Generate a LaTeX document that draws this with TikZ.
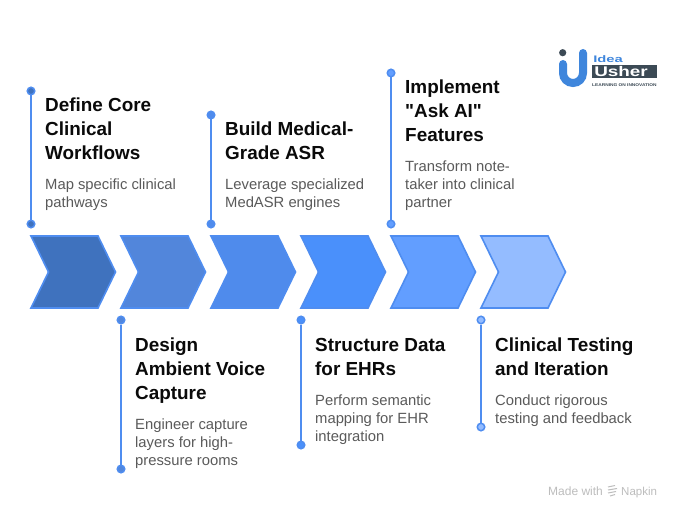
\documentclass[tikz,border=0pt]{standalone}
\usepackage{fontspec}
\setmainfont{Liberation Sans}
\newfontfamily\plainq{Liberation Sans}
\definecolor{titlec}{HTML}{0A0A0A}
\definecolor{bodyc}{HTML}{5A5A5A}
\definecolor{edgec}{HTML}{4F8DF0}
\definecolor{fa}{HTML}{3F72BE}
\definecolor{fb}{HTML}{5286DB}
\definecolor{fc}{HTML}{4F8BEC}
\definecolor{fd}{HTML}{4A90FB}
\definecolor{fe}{HTML}{629EFF}
\definecolor{ff}{HTML}{94BCFF}
\definecolor{logob}{HTML}{3F86DC}
\definecolor{logod}{HTML}{3C4A55}
\definecolor{wm}{HTML}{BDBDBD}
\tikzset{
  x=1pt,y=-1pt,
  chev/.style={draw=edgec,line width=1.6pt,line join=miter},
  dotn/.style={circle,draw=edgec,line width=1.5pt,minimum size=7.5pt,inner sep=0pt},
  stem/.style={draw=edgec,line width=1.8pt},
  head/.style={anchor=north west,inner sep=0pt,align=left,text=titlec,font=\fontsize{18.9}{24}\selectfont\bfseries},
  desc/.style={anchor=north west,inner sep=0pt,align=left,text=bodyc,font=\fontsize{14.8}{18}\selectfont},
}
\newcommand{\chevshape}[2]{\draw[chev,fill=#2] (#1,236) -- ++(67,0) -- ++(17.5,36) -- ++(-17.5,36) -- ++(-67,0) -- ++(17.5,-36) -- cycle;}
\newcommand{\strq}{{\plainq\bfseries\symbol{34}}}
\begin{document}
\begin{tikzpicture}
\useasboundingbox[fill=white] (0,0) rectangle (681,519);
% stems
\node[dotn,fill=fa] (a1) at (31,91) {};
\node[dotn,fill=fa] (a2) at (31,224) {};
\draw[stem] (a1) -- (a2);
\node[dotn,fill=fb] (b1) at (121,320) {};
\node[dotn,fill=fb] (b2) at (121,469) {};
\draw[stem] (b1) -- (b2);
\node[dotn,fill=fc] (c1) at (211,115) {};
\node[dotn,fill=fc] (c2) at (211,224) {};
\draw[stem] (c1) -- (c2);
\node[dotn,fill=fd] (d1) at (301,320) {};
\node[dotn,fill=fd] (d2) at (301,445) {};
\draw[stem] (d1) -- (d2);
\node[dotn,fill=fe] (e1) at (391,73) {};
\node[dotn,fill=fe] (e2) at (391,224) {};
\draw[stem] (e1) -- (e2);
\node[dotn,fill=ff] (f1) at (481,320) {};
\node[dotn,fill=ff] (f2) at (481,427) {};
\draw[stem] (f1) -- (f2);
% chevrons
\chevshape{31}{fa}
\chevshape{121}{fb}
\chevshape{211}{fc}
\chevshape{301}{fd}
\chevshape{391}{fe}
\chevshape{481}{ff}
% text
\node[head] (ta) at (45,98) {Define Core\\Clinical\\Workflows};
\node[desc] (da) at (45,179) {Map specific clinical\\pathways};
\node[head] (tb) at (135,338) {Design\\Ambient Voice\\Capture};
\node[desc] (db) at (135,419) {Engineer capture\\layers for high-\\pressure rooms};
\node[head] (tc) at (225,122) {Build Medical-\\Grade ASR};
\node[desc] (dc) at (225,179) {Leverage specialized\\MedASR engines};
\node[head] (td) at (315,338) {Structure Data\\for EHRs};
\node[desc] (dd) at (315,395) {Perform semantic\\mapping for EHR\\integration};
\node[head] (te) at (405,80) {Implement\\\strq Ask AI\strq\\Features};
\node[desc] (de) at (405,161) {Transform note-\\taker into clinical\\partner};
\node[head] (tf) at (495,338) {Clinical Testing\\and Iteration};
\node[desc] (df) at (495,395) {Conduct rigorous\\testing and feedback};
% logo
\draw[logob,line width=8pt,line cap=round] (563,64) -- (563,73) arc[start angle=180,end angle=0,x radius=10,y radius=10] -- (583,53);
\fill[logod] (562.7,52.7) circle[radius=3.6];
\node[anchor=base west,inner sep=0pt,text=logob,font=\fontsize{9.5}{10}\selectfont\bfseries,xscale=1.55] (lg1) at (593,62.5) {Idea};
\fill[logod] (592,65) rectangle (657,78);
\node[anchor=base west,inner sep=0pt,text=white,font=\fontsize{14}{14}\selectfont\bfseries,xscale=1.35] (lg2) at (594,77) {Usher};
\node[anchor=base west,inner sep=0pt,text=logod,font=\fontsize{4}{4}\selectfont\bfseries,xscale=1.2] (lg3) at (592,87) {LEARNING ON INNOVATION};
% watermark
\node[anchor=base west,inner sep=0pt,text=wm,font=\fontsize{12}{12}\selectfont] (wm1) at (548,495) {Made with};
\node[anchor=base west,inner sep=0pt,text=wm,font=\fontsize{11.5}{12}\selectfont] (wm2) at (621,495) {Napkin};
\draw[wm,line width=1pt] (608,487) -- (615,485.5) (608,490) -- (617,488.5) (608,493) -- (616,491.5) (610,496) -- (615,494.5);
\end{tikzpicture}
\end{document}
